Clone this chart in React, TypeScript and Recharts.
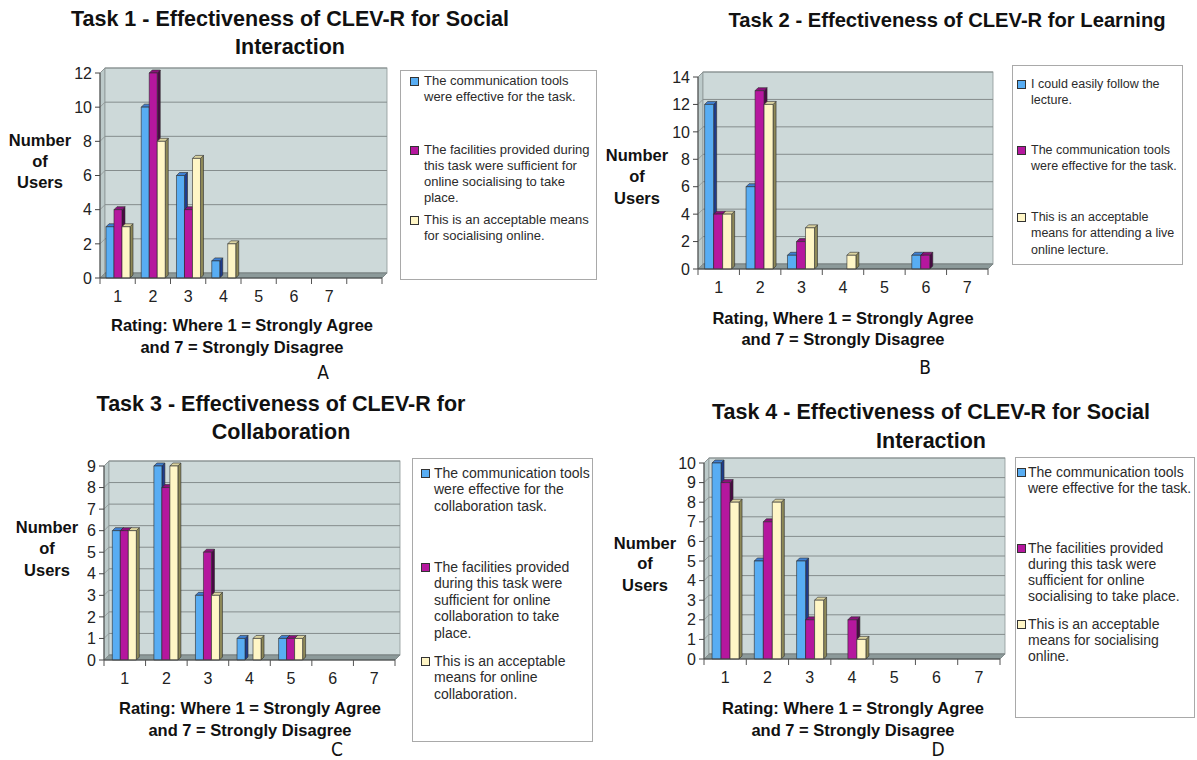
import React from 'react';
import {
  BarChart,
  Bar,
  XAxis,
  YAxis,
  CartesianGrid,
  ReferenceArea,
  Legend,
} from 'recharts';

const FONT = "'Liberation Sans', Arial, Helvetica, sans-serif";

// rating scale on the x axis (task 1 has a blank 8th slot)
const ratings7 = ['1', '2', '3', '4', '5', '6', '7'];
const ratings8 = ['1', '2', '3', '4', '5', '6', '7', ' '];

// Task 1 - social interaction
const task1Tools = [3, 10, 6, 1, 0, 0, 0, null];
const task1Facilities = [4, 12, 4, 0, 0, 0, 0, null];
const task1Acceptable = [3, 8, 7, 2, 0, 0, 0, null];
const task1Ticks = [0, 2, 4, 6, 8, 10, 12];
const task1Names = [
  'The communication tools\nwere effective for the task.',
  'The facilities provided during\nthis task were sufficient for\nonline socialising to take\nplace.',
  'This is an acceptable means\nfor socialising online.',
];

// Task 2 - learning
const task2Follow = [12, 6, 1, 0, 0, 1, 0];
const task2Tools = [4, 13, 2, 0, 0, 1, 0];
const task2Acceptable = [4, 12, 3, 1, 0, 0, 0];
const task2Ticks = [0, 2, 4, 6, 8, 10, 12, 14];
const task2Names = [
  'I could easily follow the\nlecture.',
  'The communication tools\nwere effective for the task.',
  'This is an acceptable\nmeans for attending a live\nonline lecture.',
];

// Task 3 - collaboration
const task3Tools = [6, 9, 3, 1, 1, 0, 0];
const task3Facilities = [6, 8, 5, 0, 1, 0, 0];
const task3Acceptable = [6, 9, 3, 1, 1, 0, 0];
const task3Ticks = [0, 1, 2, 3, 4, 5, 6, 7, 8, 9];
const task3Names = [
  'The communication tools\nwere effective for the\ncollaboration task.',
  'The facilities provided\nduring this task were\nsufficient for online\ncollaboration to take\nplace.',
  'This is an acceptable\nmeans for online\ncollaboration.',
];

// Task 4 - social interaction
const task4Tools = [10, 5, 5, 0, 0, 0, 0];
const task4Facilities = [9, 7, 2, 2, 0, 0, 0];
const task4Acceptable = [8, 8, 3, 1, 0, 0, 0];
const task4Ticks = [0, 1, 2, 3, 4, 5, 6, 7, 8, 9, 10];
const task4Names = [
  'The communication tools\nwere effective for the task.',
  'The facilities provided\nduring this task were\nsufficient for online\nsocialising to take place.',
  'This is an acceptable\nmeans for socialising\nonline.',
];

const xTitle = ['Rating: Where 1 = Strongly Agree', 'and 7 = Strongly Disagree'];
const xTitleB = ['Rating, Where 1 = Strongly Agree', 'and 7 = Strongly Disagree'];
const yTitle = ['Number', 'of', 'Users'];

interface SeriesStyle {
  front: string;
  top: string;
  side: string;
}

const SERIES_STYLES: SeriesStyle[] = [
  { front: '#58adf3', top: '#3f80d3', side: '#1f3c8c' },
  { front: '#b5179e', top: '#8c0f7c', side: '#4a0945' },
  { front: '#fff6c6', top: '#dcd4a0', side: '#8e8958' },
];

const WALL_DEPTH = 5;
const BAR_DEPTH = 3;
const Y_AXIS_W = 40;
const X_AXIS_H = 30;

interface Rect {
  left: number;
  right: number;
  top: number;
  bottom: number;
}

interface LegendLayout extends Rect {
  rows: number[];
  fontSize: number;
  lineHeight: number;
  letterSpacing: number;
  swatchX: number;
  textX: number;
}

interface PanelConfig {
  title: string[];
  titleX: number;
  titleY: number[];
  titleSize: number;
  categories: string[];
  series: (number | null)[][];
  names: string[];
  yTicks: number[];
  plot: Rect;
  gap: string;
  yLabelX: number;
  yLabelY: number[];
  xLabel: string[];
  xLabelX: number;
  xLabelY: number[];
  letter: string;
  letterX: number;
  letterY: number;
  legend: LegendLayout;
}

const panels: PanelConfig[] = [
  {
    title: ['Task 1 - Effectiveness of CLEV-R for Social', 'Interaction'],
    titleX: 290,
    titleY: [20, 48],
    titleSize: 21.5,
    categories: ratings8,
    series: [task1Tools, task1Facilities, task1Acceptable],
    names: task1Names,
    yTicks: task1Ticks,
    plot: { left: 100, right: 382, top: 73, bottom: 278 },
    gap: '17%',
    yLabelX: 40,
    yLabelY: [140, 161, 182],
    xLabel: xTitle,
    xLabelX: 242,
    xLabelY: [325, 347],
    letter: 'A',
    letterX: 323,
    letterY: 372,
    legend: {
      left: 400, right: 597, top: 70, bottom: 280,
      rows: [80, 149, 219], fontSize: 13, lineHeight: 16, letterSpacing: 0, swatchX: 9, textX: 23,
    },
  },
  {
    title: ['Task 2 - Effectiveness of CLEV-R for Learning'],
    titleX: 947,
    titleY: [20],
    titleSize: 20.2,
    categories: ratings7,
    series: [task2Follow, task2Tools, task2Acceptable],
    names: task2Names,
    yTicks: task2Ticks,
    plot: { left: 698, right: 988, top: 77, bottom: 269 },
    gap: '16%',
    yLabelX: 637,
    yLabelY: [155, 176, 198],
    xLabel: xTitleB,
    xLabelX: 843,
    xLabelY: [318, 339],
    letter: 'B',
    letterX: 925,
    letterY: 367,
    legend: {
      left: 1012, right: 1183, top: 65, bottom: 265,
      rows: [83, 149, 216], fontSize: 12.5, lineHeight: 16.5, letterSpacing: 0, swatchX: 4, textX: 18,
    },
  },
  {
    title: ['Task 3 - Effectiveness of CLEV-R for', 'Collaboration'],
    titleX: 281,
    titleY: [405, 433],
    titleSize: 21.5,
    categories: ratings7,
    series: [task3Tools, task3Facilities, task3Acceptable],
    names: task3Names,
    yTicks: task3Ticks,
    plot: { left: 104, right: 395, top: 466, bottom: 660 },
    gap: '20%',
    yLabelX: 47,
    yLabelY: [527, 548, 570],
    xLabel: xTitle,
    xLabelX: 250,
    xLabelY: [708, 730],
    letter: 'C',
    letterX: 337,
    letterY: 749,
    legend: {
      left: 412, right: 593, top: 458, bottom: 742,
      rows: [472, 566, 660], fontSize: 14, lineHeight: 16.5, letterSpacing: 0, swatchX: 8, textX: 21,
    },
  },
  {
    title: ['Task 4 - Effectiveness of CLEV-R for Social', 'Interaction'],
    titleX: 931,
    titleY: [413, 442],
    titleSize: 21.5,
    categories: ratings7,
    series: [task4Tools, task4Facilities, task4Acceptable],
    names: task4Names,
    yTicks: task4Ticks,
    plot: { left: 704, right: 1000, top: 463, bottom: 659 },
    gap: '19%',
    yLabelX: 645,
    yLabelY: [543, 563, 585],
    xLabel: xTitle,
    xLabelX: 853,
    xLabelY: [708, 730],
    letter: 'D',
    letterX: 938,
    letterY: 749,
    legend: {
      left: 1015, right: 1195, top: 457, bottom: 718,
      rows: [471, 547, 623], fontSize: 14, lineHeight: 16, letterSpacing: 0, swatchX: 1, textX: 12,
    },
  },
];

// back wall, left side wall and floor of the 3-D plot box
const wallShape = (props: any) => {
  const { x, y, width, height } = props;
  const d = WALL_DEPTH;
  const b = y + height;
  return (
    <g>
      <polygon
        points={`${x},${y} ${x + d},${y - d} ${x + d},${b - d} ${x},${b}`}
        fill="#bccaca"
        stroke="#8d9797"
        strokeWidth={0.8}
      />
      <rect x={x + d} y={y - d} width={width} height={height} fill="#cdd9d9" stroke="#8d9797" strokeWidth={0.8} />
      <polygon
        points={`${x},${b} ${x + width},${b} ${x + width + d},${b - d} ${x + d},${b - d}`}
        fill="#8c9a9a"
        stroke="#6d7878"
        strokeWidth={0.8}
      />
    </g>
  );
};

// gridlines sit on the back wall, with a short stub across the side wall
const wallGridLine = (props: any) => {
  const { x1, y1, x2, y2 } = props;
  const d = WALL_DEPTH;
  return (
    <g key={`g-${y1}`}>
      <line x1={x1} y1={y1} x2={x1 + d} y2={y1 - d} stroke="#8b9292" strokeWidth={0.8} />
      <line x1={x1 + d} y1={y1 - d} x2={x2 + d} y2={y2 - d} stroke="#858d8d" strokeWidth={1} />
    </g>
  );
};

const bar3D = (st: SeriesStyle) => (props: any) => {
  const { x, y, width, height } = props;
  if (!height || height < 0.5) return <g />;
  const k = BAR_DEPTH;
  const r = x + width;
  const b = y + height;
  return (
    <g stroke="#2b2b2b" strokeWidth={0.6} strokeLinejoin="round">
      <polygon points={`${r},${y} ${r + k},${y - k} ${r + k},${b - k} ${r},${b}`} fill={st.side} />
      <polygon points={`${x},${y} ${x + k},${y - k} ${r + k},${y - k} ${r},${y}`} fill={st.top} />
      <rect x={x} y={y} width={width} height={height} fill={st.front} />
    </g>
  );
};

// category label in the middle of a slot, tick marks on the slot boundaries
const ratingTick = (bandWidth: number) => (props: any) => {
  const { x, y, payload, index, visibleTicksCount } = props;
  const axisY = y - 13;
  const lx = x - bandWidth / 2;
  const rx = x + bandWidth / 2;
  return (
    <g>
      <line x1={lx} y1={axisY} x2={lx} y2={axisY + 6} stroke="#555" />
      {index === visibleTicksCount - 1 && <line x1={rx} y1={axisY} x2={rx} y2={axisY + 6} stroke="#555" />}
      <text x={x} y={y} dy="0.71em" textAnchor="middle" fill="#222" fontSize={16} fontFamily={FONT}>
        {payload.value}
      </text>
    </g>
  );
};

const LegendBox = ({ payload, cfg }: { payload: any[]; cfg: PanelConfig }) => {
  const lg = cfg.legend;
  const items = [...(payload || [])].sort((a, b) => String(a.dataKey).localeCompare(String(b.dataKey)));
  return (
    <div
      style={{
        position: 'relative',
        width: lg.right - lg.left,
        height: lg.bottom - lg.top,
        boxSizing: 'border-box',
        border: '1px solid #a9a9a9',
        background: '#fff',
        fontFamily: FONT,
        overflow: 'hidden',
      }}
    >
      {items.map((item, i) => {
        const top = lg.rows[i] - lg.top - lg.lineHeight / 2;
        return (
          <div key={String(item.dataKey)} style={{ position: 'absolute', left: 0, top, width: '100%' }}>
            <div
              style={{
                position: 'absolute',
                left: lg.swatchX,
                top: lg.lineHeight / 2 - 4.5,
                width: 7,
                height: 7,
                background: item.color,
                border: '1px solid #333',
              }}
            />
            <div
              style={{
                position: 'absolute',
                left: lg.textX,
                top: 0,
                whiteSpace: 'pre',
                fontSize: lg.fontSize,
                letterSpacing: lg.letterSpacing,
                lineHeight: `${lg.lineHeight}px`,
                color: '#2b2b2b',
              }}
            >
              {item.value}
            </div>
          </div>
        );
      })}
    </div>
  );
};

const textLine = (
  text: string,
  cx: number,
  cy: number,
  size: number,
  bold: boolean,
  key: string,
  family = FONT,
) => (
  <div
    key={key}
    style={{
      position: 'absolute',
      left: cx - 300,
      top: cy - size * 0.55,
      width: 600,
      textAlign: 'center',
      fontFamily: family,
      fontSize: size,
      fontWeight: bold ? 'bold' : 'normal',
      lineHeight: `${size * 1.1}px`,
      color: '#111',
      whiteSpace: 'nowrap',
    }}
  >
    {text}
  </div>
);

function TaskPanel({ cfg, id }: { cfg: PanelConfig; id: number }) {
  const { plot, legend } = cfg;
  const boxLeft = plot.left - 100;
  const boxTop = Math.min(plot.top, legend.top) - 10;
  const boxRight = Math.min(1197, Math.max(plot.right + 20, legend.right + 2));
  const boxBottom = Math.max(plot.bottom + 40, legend.bottom + 2);
  const width = boxRight - boxLeft;
  const height = boxBottom - boxTop;
  const yMax = cfg.yTicks[cfg.yTicks.length - 1];
  const bandWidth = (plot.right - plot.left) / cfg.categories.length;

  const rows = cfg.categories.map((rating, i) => ({
    rating,
    s0: cfg.series[0][i],
    s1: cfg.series[1][i],
    s2: cfg.series[2][i],
  }));

  return (
    <>
      {cfg.title.map((t, i) => textLine(t, cfg.titleX, cfg.titleY[i], cfg.titleSize, true, `t${id}-${i}`))}
      {yTitle.map((t, i) => textLine(t, cfg.yLabelX, cfg.yLabelY[i], 16.5, true, `y${id}-${i}`))}
      {cfg.xLabel.map((t, i) => textLine(t, cfg.xLabelX, cfg.xLabelY[i], 16.5, true, `x${id}-${i}`))}
      {textLine(cfg.letter, cfg.letterX, cfg.letterY, 19, false, `l${id}`, "'DejaVu Sans Condensed', 'DejaVu Sans', sans-serif")}
      <div style={{ position: 'absolute', left: boxLeft, top: boxTop }}>
        <BarChart
          width={width}
          height={height}
          data={rows}
          barGap={0}
          barCategoryGap={cfg.gap}
          margin={{
            top: plot.top - boxTop,
            right: boxRight - plot.right,
            bottom: boxBottom - plot.bottom - X_AXIS_H,
            left: plot.left - boxLeft - Y_AXIS_W,
          }}
        >
          <ReferenceArea y1={0} y2={yMax} shape={wallShape} fill="none" stroke="none" zIndex={-200} />
          <CartesianGrid vertical={false} horizontal={wallGridLine} zIndex={-150} />
          <XAxis
            dataKey="rating"
            interval={0}
            height={X_AXIS_H}
            tickLine={false}
            tickSize={6}
            tickMargin={7}
            axisLine={{ stroke: '#444' }}
            tick={ratingTick(bandWidth)}
          />
          <YAxis
            type="number"
            domain={[0, yMax]}
            ticks={cfg.yTicks}
            interval={0}
            width={Y_AXIS_W}
            tickSize={5}
            tickMargin={3}
            axisLine={{ stroke: '#444' }}
            tickLine={{ stroke: '#444' }}
            tick={{ fill: '#222', fontSize: 16, fontFamily: FONT }}
          />
          <Legend
            layout="vertical"
            align="center"
            verticalAlign="middle"
            wrapperStyle={{
              left: legend.left - boxLeft,
              top: legend.top - boxTop,
              width: legend.right - legend.left,
              height: legend.bottom - legend.top,
            }}
            content={(props: any) => <LegendBox payload={props.payload} cfg={cfg} />}
          />
          {SERIES_STYLES.map((st, i) => (
            <Bar
              key={`s${i}`}
              dataKey={`s${i}`}
              name={cfg.names[i]}
              fill={st.front}
              shape={bar3D(st)}
              isAnimationActive={false}
            />
          ))}
        </BarChart>
      </div>
    </>
  );
}

export default function App() {
  return (
    <div
      style={{
        position: 'absolute',
        left: 0,
        top: 0,
        width: 1197,
        height: 760,
        overflow: 'hidden',
        background: '#fff',
      }}
    >
      {panels.map((cfg, i) => (
        <TaskPanel key={i} cfg={cfg} id={i} />
      ))}
    </div>
  );
}
